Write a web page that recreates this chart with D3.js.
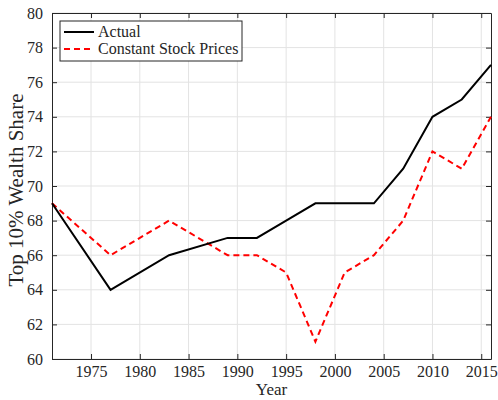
<!DOCTYPE html>
<html>
<head>
<meta charset="utf-8">
<script src="https://cdn.jsdelivr.net/npm/d3@7"></script>
<style>
  body { margin: 0; background: #fff; }
  text { font-family: "Liberation Serif", "DejaVu Serif", serif; fill: #262626; }
</style>
</head>
<body>
<div id="chart"></div>
<script>
var years = [1971, 1977, 1983, 1989, 1992, 1995, 1998, 2001, 2004, 2007, 2010, 2013, 2016];
var actual = [69, 64, 66, 67, 67, 68, 69, 69, 69, 71, 74, 75, 77];
var constantPrices = [69, 66, 68, 66, 66, 65, 61, 65, 66, 68, 72, 71, 74];
var xTicks = [1975, 1980, 1985, 1990, 1995, 2000, 2005, 2010, 2015];
var yTicks = [60, 62, 64, 66, 68, 70, 72, 74, 76, 78, 80];

var svgWidth = 498;
var svgHeight = 400;
var margin = { top: 13, right: 7, bottom: 41, left: 52 };
var width = svgWidth - margin.left - margin.right;
var height = svgHeight - margin.top - margin.bottom;

var svg = d3.select("#chart")
  .append("svg")
  .attr("width", svgWidth)
  .attr("height", svgHeight);

var chartGroup = svg.append("g")
  .attr("transform", `translate(${margin.left}, ${margin.top})`);

var xScale = d3.scaleLinear().domain([1971, 2016]).range([0, width]);
var yScale = d3.scaleLinear().domain([60, 80]).range([height, 0]);

// grid
chartGroup.append("g").selectAll("line")
  .data(xTicks).enter().append("line")
  .attr("x1", d => xScale(d)).attr("x2", d => xScale(d))
  .attr("y1", 0).attr("y2", height)
  .attr("stroke", "#e3e3e3").attr("stroke-width", 1);
chartGroup.append("g").selectAll("line")
  .data(yTicks).enter().append("line")
  .attr("x1", 0).attr("x2", width)
  .attr("y1", d => yScale(d)).attr("y2", d => yScale(d))
  .attr("stroke", "#e3e3e3").attr("stroke-width", 1);

// axes with inward ticks
function styleAxis(g) {
  g.selectAll(".domain").attr("stroke", "#262626");
  g.selectAll(".tick line").attr("stroke", "#262626");
  g.selectAll(".tick text").style("font-size", "16px").attr("fill", "#262626");
}

chartGroup.append("g")
  .attr("transform", `translate(0, ${height})`)
  .call(d3.axisBottom(xScale).tickValues(xTicks).tickFormat(d3.format("d"))
    .tickSizeInner(-5).tickSizeOuter(0).tickPadding(7))
  .call(styleAxis);

chartGroup.append("g")
  .call(d3.axisTop(xScale).tickValues(xTicks).tickFormat("")
    .tickSizeInner(-5).tickSizeOuter(0))
  .call(styleAxis);

chartGroup.append("g")
  .call(d3.axisLeft(yScale).tickValues(yTicks)
    .tickSizeInner(-5).tickSizeOuter(0).tickPadding(9))
  .call(styleAxis);

chartGroup.append("g")
  .attr("transform", `translate(${width}, 0)`)
  .call(d3.axisRight(yScale).tickValues(yTicks).tickFormat("")
    .tickSizeInner(-5).tickSizeOuter(0))
  .call(styleAxis);

// lines
var line = d3.line()
  .x((d, i) => xScale(years[i]))
  .y(d => yScale(d));

chartGroup.append("path")
  .datum(constantPrices)
  .attr("d", line)
  .attr("fill", "none")
  .attr("stroke", "#ff0000")
  .attr("stroke-width", 2)
  .attr("stroke-dasharray", "6,4");

chartGroup.append("path")
  .datum(actual)
  .attr("d", line)
  .attr("fill", "none")
  .attr("stroke", "#000")
  .attr("stroke-width", 2);

// legend
var legend = svg.append("g").attr("transform", "translate(60, 21)");
legend.append("rect")
  .attr("width", 182).attr("height", 40)
  .attr("fill", "#fff").attr("stroke", "#262626").attr("stroke-width", 1);

var legendItems = [
  { label: "Actual", color: "#000", dash: null },
  { label: "Constant Stock Prices", color: "#ff0000", dash: "6,4" }
];
legendItems.forEach(function(item, i) {
  var yPos = 11 + i * 17;
  legend.append("line")
    .attr("x1", 4).attr("x2", 34)
    .attr("y1", yPos).attr("y2", yPos)
    .attr("stroke", item.color).attr("stroke-width", 2)
    .attr("stroke-dasharray", item.dash);
  legend.append("text")
    .attr("x", 38).attr("y", yPos + 5)
    .style("font-size", "16px")
    .text(item.label);
});

// axis labels
svg.append("text")
  .attr("transform", `translate(23, ${margin.top + height / 2 + 4}) rotate(-90)`)
  .attr("text-anchor", "middle")
  .style("font-size", "21px")
  .text("Top 10% Wealth Share");

svg.append("text")
  .attr("x", margin.left + width / 2)
  .attr("y", 395)
  .attr("text-anchor", "middle")
  .style("font-size", "17px")
  .text("Year");
</script>
</body>
</html>
